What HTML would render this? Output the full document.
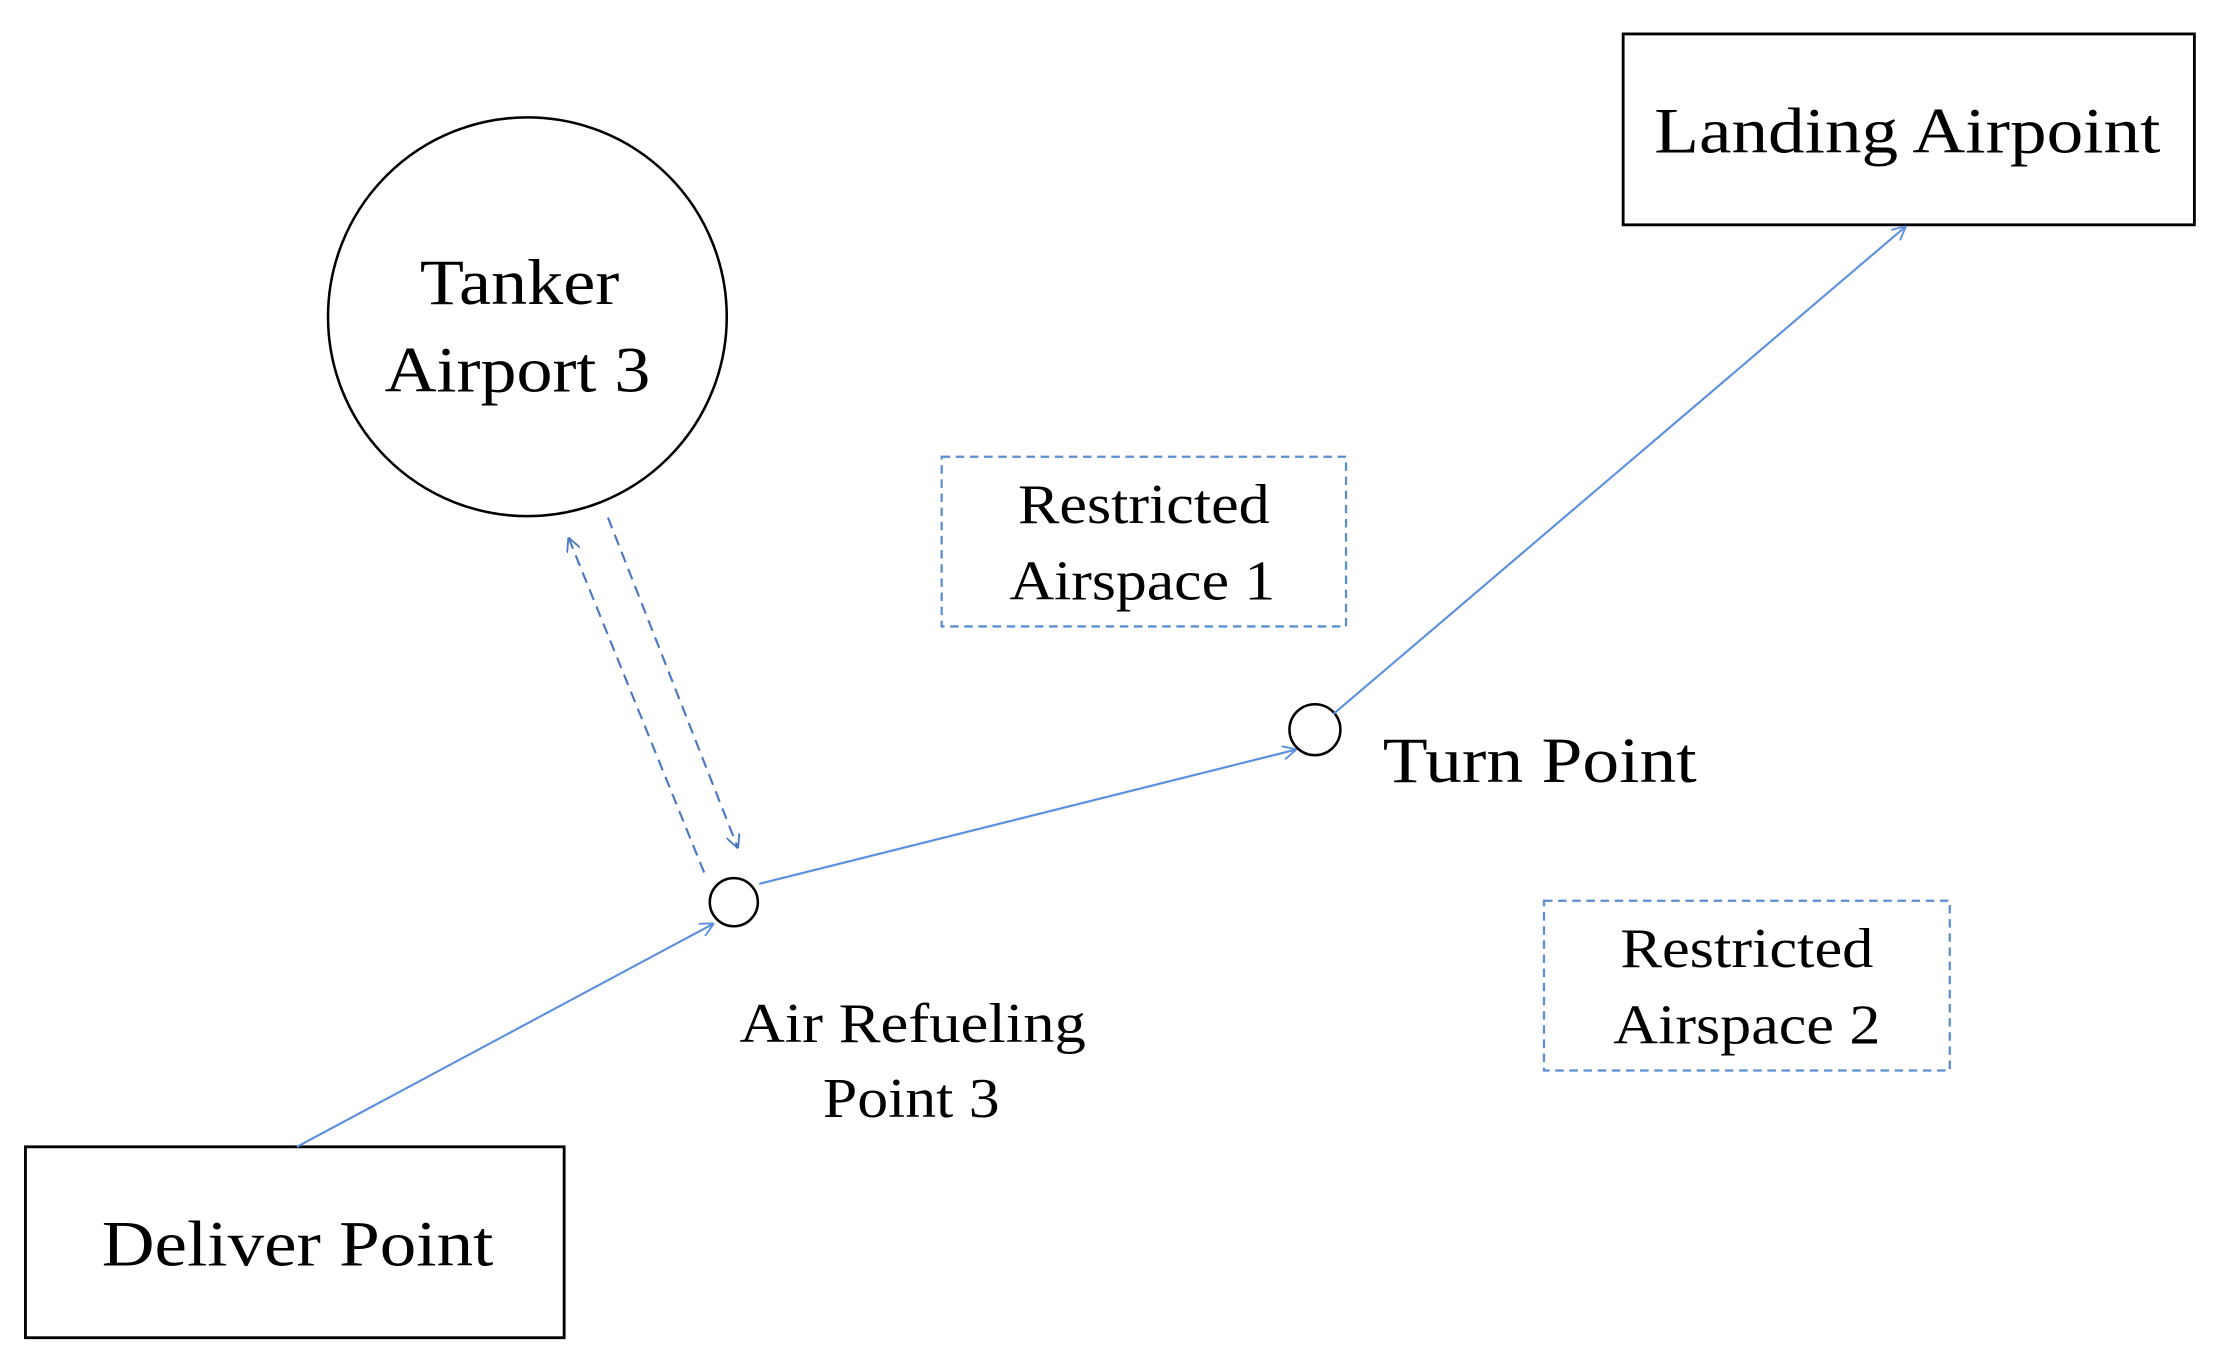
<!DOCTYPE html>
<html><head><meta charset="utf-8"><style>
html,body{margin:0;padding:0;background:#fff;}
svg{display:block;}
text{font-family:"Liberation Serif",serif;fill:#000;}
</style></head><body>
<svg width="2217" height="1366" viewBox="0 0 1568 966" preserveAspectRatio="none" xmlns="http://www.w3.org/2000/svg">
<defs>
<marker id="a" viewBox="0 0 10 10" refX="10" refY="5" markerWidth="10" markerHeight="10" markerUnits="userSpaceOnUse" orient="auto">
<path d="M0,0 L10,5 L0,10" fill="none" stroke="#5b8fe0" stroke-width="1.3"/></marker>
<marker id="b" viewBox="0 0 10 10" refX="10" refY="5" markerWidth="10" markerHeight="10" markerUnits="userSpaceOnUse" orient="auto">
<path d="M0,0 L10,5 L0,10" fill="none" stroke="#4a78c0" stroke-width="1.3"/></marker>
</defs>
<rect x="1148" y="24" width="404" height="135" fill="none" stroke="#000" stroke-width="2"/>
<text x="1170" y="108" font-size="46" textLength="358" lengthAdjust="spacingAndGlyphs">Landing Airpoint</text>
<circle cx="373" cy="224" r="141" fill="none" stroke="#000" stroke-width="1.8"/>
<text x="297" y="215" font-size="46" textLength="141" lengthAdjust="spacingAndGlyphs">Tanker</text>
<text x="272" y="277" font-size="46" textLength="188" lengthAdjust="spacingAndGlyphs">Airport 3</text>
<rect x="666" y="323" width="286" height="120" fill="none" stroke="#5b8fd0" stroke-width="1.6" stroke-dasharray="6,4"/>
<text x="720" y="370" font-size="40" textLength="178" lengthAdjust="spacingAndGlyphs">Restricted</text>
<text x="714" y="424" font-size="40" textLength="188" lengthAdjust="spacingAndGlyphs">Airspace 1</text>
<rect x="1092" y="637" width="287" height="120" fill="none" stroke="#5b8fd0" stroke-width="1.6" stroke-dasharray="6,4"/>
<text x="1146" y="684" font-size="40" textLength="179" lengthAdjust="spacingAndGlyphs">Restricted</text>
<text x="1141" y="738" font-size="40" textLength="189" lengthAdjust="spacingAndGlyphs">Airspace 2</text>
<circle cx="930" cy="516" r="18" fill="none" stroke="#000" stroke-width="1.8"/>
<text x="978" y="553" font-size="46" textLength="222" lengthAdjust="spacingAndGlyphs">Turn Point</text>
<circle cx="519" cy="638" r="17" fill="none" stroke="#000" stroke-width="1.8"/>
<text x="523" y="737" font-size="40" textLength="245" lengthAdjust="spacingAndGlyphs">Air Refueling</text>
<text x="582" y="790" font-size="40" textLength="125" lengthAdjust="spacingAndGlyphs">Point 3</text>
<rect x="18" y="811" width="381" height="135" fill="none" stroke="#000" stroke-width="2"/>
<text x="72" y="895" font-size="46" textLength="277" lengthAdjust="spacingAndGlyphs">Deliver Point</text>
<g stroke="#5b8fe0" stroke-width="1.5" fill="none">
<line x1="210" y1="811" x2="505" y2="653" marker-end="url(#a)"/>
<line x1="537" y1="625" x2="917" y2="530" marker-end="url(#a)"/>
<line x1="943" y1="505" x2="1348" y2="160" marker-end="url(#a)"/>
</g>
<g stroke="#4a78c0" stroke-width="1.5" fill="none" stroke-dasharray="8,5">
<line x1="498" y1="617" x2="402" y2="380" marker-end="url(#b)"/>
<line x1="430" y1="366" x2="522" y2="600" marker-end="url(#b)"/>
</g>
</svg>
</body></html>
